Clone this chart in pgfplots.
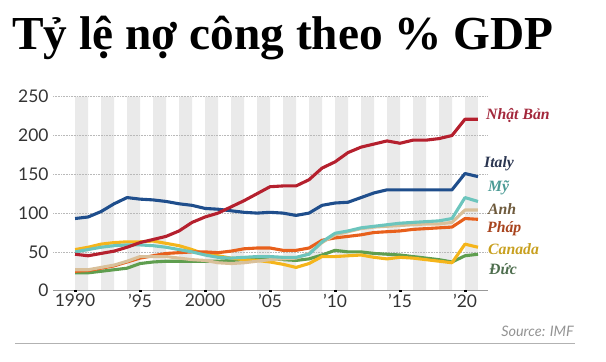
\documentclass[border=0pt]{standalone}
\usepackage{fontspec}
\setmainfont{Liberation Serif}
\newfontfamily\sansf{Lato}
\usepackage{pgfplots}
\usepackage{pgfplotstable}
\pgfplotsset{compat=1.18}
\definecolor{cJP}{HTML}{B5202E}
\definecolor{cIT}{HTML}{1F4E8C}
\definecolor{cUS}{HTML}{6CC5BD}
\definecolor{cUK}{HTML}{D9C09A}
\definecolor{cFR}{HTML}{E8601C}
\definecolor{cCA}{HTML}{F5B51B}
\definecolor{cDE}{HTML}{5F9E4F}
\definecolor{lJP}{HTML}{A3283C}
\definecolor{lIT}{HTML}{2A3550}
\definecolor{lUS}{HTML}{4A9A94}
\definecolor{lUK}{HTML}{6E5A3C}
\definecolor{lFR}{HTML}{A8441E}
\definecolor{lCA}{HTML}{C8A020}
\definecolor{lDE}{HTML}{4E6E4E}
\definecolor{stripe}{HTML}{EAEAEA}
\pgfplotstableread{
t JP IT US UK FR CA DE
0 47 93 50 27 25 53 23
1 45 95 53 27 26 56 23
2 48 102 56 30 29 60 25
3 51 112 58 33 32 62 27
4 56 120 59 38 37 63 29
5 62 118 59 44 42 63 35
6 66 117 58 44 45 64 37
7 70 115 56 44 48 61 38
8 77 112 53 42 49 58 38
9 88 110 50 40 50 53 38
10 95 106 46 39 50 47 38
11 100 105 43 36 49 45 38
12 108 103 42 35 51 42 39
13 116 101 43 36 54 40 40
14 125 100 44 38 55 39 41
15 134 101 44 40 55 37 41
16 135 100 43 41 52 34 40
17 135 97 43 42 52 30 39
18 143 100 47 48 55 35 41
19 158 110 63 62 65 44 46
20 166 113 74 72 68 44 52
21 178 114 77 76 70 45 50
22 185 120 81 80 72 46 50
23 189 126 83 82 75 43 48
24 193 130 85 83 76 41 47
25 190 130 87 84 77 43 46
26 194 130 88 85 79 42 44
27 194 130 89 86 80 40 42
28 196 130 90 86 81 38 40
29 200 130 93 88 82 36 37
30 221 151 120 104 93 60 45
31 221 147 115 104 92 56 47
}\debt
\begin{document}
\begin{tikzpicture}
\path (0bp,0bp) rectangle (606bp,362bp);
\node[anchor=base west, inner sep=0, font=\fontsize{47.5}{50}\selectfont\bfseries] at (12bp,312bp) {Tỷ lệ nợ công theo \% GDP};
\begin{axis}[
  at={(53bp,71.3bp)}, anchor=south west,
  width=435bp, height=194bp, scale only axis,
  xmin=-1.7, xmax=31.77, ymin=0, ymax=250,
  axis line style={draw=none},
  tick pos=left,
  ytick={0,50,100,150,200,250},
  xtick={0,5,10,15,20,25,30},
  xticklabels={1990,’95,2000,’05,’10,’15,’20},
  ytick style={draw=none},
  xtick style={draw=none},
  tick label style={font=\sansf\fontsize{17.5}{18}\selectfont, text=black!80},
  /pgf/number format/assume math mode=true,
  yticklabel style={xshift=-1pt},
  clip=false,
  ser/.style={line width=3.1bp, line join=round, mark=none},
]
\addplot[ybar interval, fill=stripe, draw=none] coordinates {
(0,250) (1,0) (2,250) (3,0) (4,250) (5,0) (6,250) (7,0) (8,250) (9,0)
(10,250) (11,0) (12,250) (13,0) (14,250) (15,0) (16,250) (17,0) (18,250) (19,0)
(20,250) (21,0) (22,250) (23,0) (24,250) (25,0) (26,250) (27,0) (28,250) (29,0)
(30,250) (31,0)};
\addplot[densely dotted, gray!55, line width=0.6pt, forget plot] coordinates {(-1.7,50) (31.77,50)};
\addplot[densely dotted, gray!55, line width=0.6pt, forget plot] coordinates {(-1.7,100) (31.77,100)};
\addplot[densely dotted, gray!55, line width=0.6pt, forget plot] coordinates {(-1.7,150) (31.77,150)};
\addplot[densely dotted, gray!55, line width=0.6pt, forget plot] coordinates {(-1.7,200) (31.77,200)};
\addplot[densely dotted, gray!55, line width=0.6pt, forget plot] coordinates {(-1.7,250) (31.77,250)};
\addplot[gray!80, line width=0.8pt, forget plot] coordinates {(-1.7,0) (31.77,0)};
\addplot[only marks, mark=square*, mark size=1pt, black, forget plot] coordinates {(0,0) (5,0) (10,0) (15,0) (20,0) (25,0) (30,0)};
\addplot[ser, cDE] table[x=t,y=DE]{\debt};
\addplot[ser, cCA] table[x=t,y=CA]{\debt};
\addplot[ser, cFR] table[x=t,y=FR]{\debt};
\addplot[ser, cUK] table[x=t,y=UK]{\debt};
\addplot[ser, cUS] table[x=t,y=US]{\debt};
\addplot[ser, cIT] table[x=t,y=IT]{\debt};
\addplot[ser, cJP] table[x=t,y=JP]{\debt};
\end{axis}
\begin{scope}[every node/.style={anchor=base west, inner sep=0, font=\fontsize{15.8}{16}\selectfont\bfseries\itshape}]
\node[text=lJP] at (486bp,242bp) {Nhật Bản};
\node[text=lIT] at (484bp,194bp) {Italy};
\node[text=lUS] at (488bp,170bp) {Mỹ};
\node[text=lUK] at (488bp,147bp) {Anh};
\node[text=lFR] at (487bp,129bp) {Pháp};
\node[text=lCA] at (488bp,107bp) {Canada};
\node[text=lDE] at (489bp,87bp) {Đức};
\end{scope}
\node[anchor=base east, inner sep=0, text=gray!85, font=\sansf\itshape\fontsize{14.5}{15}\selectfont] at (574bp,26bp) {Source: IMF};
\draw[gray!60, line width=0.8pt] (15bp,19bp) -- (575bp,19bp);
\end{tikzpicture}
\end{document}
